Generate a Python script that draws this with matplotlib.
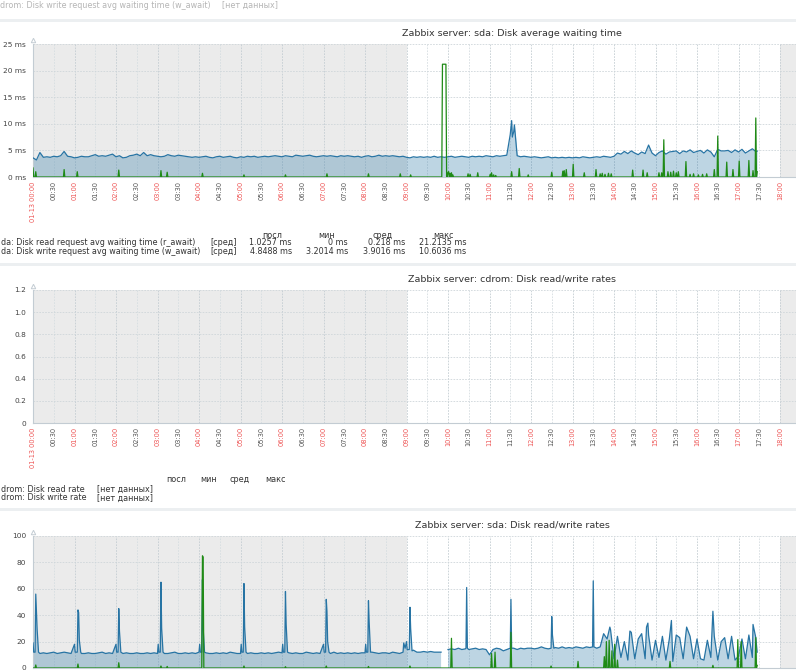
import numpy as np
import matplotlib
matplotlib.use("Agg")
import matplotlib.pyplot as plt
from matplotlib.patches import Rectangle
from matplotlib.transforms import blended_transform_factory

W, H = 796, 672
X0 = 33                      # pixel column of the y axis
PX_PER_HOUR = 41.5
T_MAX = (W - X0) / PX_PER_HOUR * 60   # minutes visible up to the right edge
DATA_END = 1047              # last sample, ~17:27

GREEN = "#1f8a16"
BLUE = "#2774a4"
SHADE = "#ebebeb"
AXIS = "#c3ccd3"
TXT = "#333333"
HOUR_RED = "#ee5555"
LEG_FS = 5.8

# ---- sda: Disk average waiting time (ms) --------------------------------
# w_await, one value per 5 minutes from 00:00
W_AWAIT_BASE = [
    3.6, 3.2, 4.6, 3.7, 3.8, 3.7, 3.9, 3.8, 4.0, 4.8, 3.9, 3.8,   # 00
    3.6, 3.7, 3.9, 3.8, 3.8, 4.0, 4.2, 3.9, 4.0, 3.9, 4.1, 4.3,   # 01
    3.8, 4.0, 3.6, 3.7, 4.0, 4.1, 4.3, 4.0, 4.6, 4.0, 4.2, 4.0,   # 02
    3.9, 3.8, 3.9, 4.2, 4.0, 3.9, 4.1, 4.0, 3.9, 3.8, 3.7, 3.8,   # 03
    3.7, 3.8, 3.9, 3.7, 3.6, 3.8, 3.9, 3.7, 3.8, 3.9, 3.7, 3.6,   # 04
    3.8, 3.7, 3.9, 3.8, 3.9, 3.7, 3.8, 3.9, 3.8, 3.9, 4.0, 3.9,   # 05
    3.8, 4.0, 3.9, 3.8, 4.1, 4.0, 3.9, 4.0, 4.1, 3.9, 3.8, 3.9,   # 06
    4.0, 3.9, 4.0, 3.9, 3.8, 4.0, 3.9, 4.0, 3.9, 3.8, 3.9, 3.7,   # 07
    3.9, 4.0, 3.8, 3.9, 4.1, 3.9, 4.0, 3.9, 4.0, 3.9, 3.8, 3.9,   # 08
    3.7, 3.6, 3.8, 3.7, 3.8, 3.7, 3.8, 3.7, 3.9, 3.7, 3.8, 3.7,   # 09
    3.8, 3.9, 3.7, 3.8, 3.9, 3.8, 3.7, 3.9, 3.8, 3.9, 3.8, 4.0,   # 10
    3.9, 3.8, 4.0, 3.9, 4.0, 4.1, 8.0, 8.5, 4.0, 3.8, 3.9, 3.8,   # 11
    3.7, 3.8, 3.7, 3.6, 3.7, 3.8, 3.6, 3.7, 3.6, 3.7, 3.6, 3.7,   # 12
    3.6, 3.7, 3.6, 3.8, 3.7, 3.6, 3.7, 3.8, 3.7, 3.9, 3.8, 3.7,   # 13
    3.9, 4.5, 4.3, 4.8, 4.4, 4.9, 4.5, 4.2, 4.7, 4.4, 6.0, 4.5,   # 14
    4.0, 4.6, 4.9, 4.3, 4.7, 4.8, 4.9, 4.4, 4.9, 4.7, 5.1, 4.6,   # 15
    4.8, 5.0, 4.5, 5.1, 4.7, 3.8, 5.2, 4.9, 4.9, 5.0, 4.6, 5.1,   # 16
    4.7, 5.2, 4.5, 4.9, 5.3, 4.8,                                 # 17
]
# (minute, ms) readings finer than the 5 minute grid
W_AWAIT_DETAIL = [(688, 6.5), (690, 8.0), (692, 10.6), (693, 7.5), (695, 8.5),
                  (696, 9.8), (698, 7.0), (700, 4.0), (1047, 4.85)]
# r_await sits at 0 ms apart from these (minute, ms) readings
R_AWAIT_SPIKES = [
    (0, 1.7), (4, 1.0), (45, 1.4), (64, 1.0), (124, 1.3), (185, 1.2), (194, 0.9),
    (245, 0.7), (305, 0.4), (365, 0.4), (425, 0.6), (485, 0.6), (531, 0.6), (546, 0.4),
    (592, 21.2), (593, 21.2), (594, 21.2), (595, 21.2), (596, 21.2), (597, 21.2),
    (600, 0.9), (601, 1.0), (603, 0.7), (605, 0.8), (607, 0.4),
    (629, 0.6), (632, 0.5), (643, 0.8), (661, 0.5), (663, 0.8), (666, 0.4), (669, 0.3),
    (692, 1.0), (703, 1.6), (716, 0.4), (750, 0.9), (766, 1.1), (768, 1.2), (771, 1.4),
    (781, 2.4), (797, 0.8), (814, 1.4), (820, 0.6), (823, 0.7), (827, 0.5), (832, 0.7),
    (836, 0.6), (867, 1.3), (882, 1.3), (888, 0.8), (905, 0.8), (909, 0.8), (912, 7.0),
    (918, 1.0), (922, 0.9), (926, 1.1), (930, 0.8), (933, 1.0), (944, 2.9), (950, 0.5),
    (955, 0.6), (962, 0.4), (968, 0.5), (974, 0.6), (985, 1.4), (990, 7.7), (1003, 2.8),
    (1012, 1.4), (1021, 3.0), (1035, 3.1), (1041, 1.2), (1045, 11.1), (1047, 1.0),
]
AWAIT_LEGEND = [
    ("da: Disk read request avg waiting time (r_await)", "1.0257 ms", "0 ms", "0.218 ms", "21.2135 ms"),
    ("da: Disk write request avg waiting time (w_await)", "4.8488 ms", "3.2014 ms", "3.9016 ms", "10.6036 ms"),
]

# ---- sda: Disk read/write rates -----------------------------------------
nan = float("nan")
WRITE_RATE_BASE = [
    12, 11, 11, 11.5, 11, 11.5, 12, 11, 11.5, 12, 11.5, 11,       # 00
    11, 11.5, 11, 11, 11.5, 11, 11, 11.5, 12, 11, 11.5, 11,       # 01
    11.5, 11, 11, 11.5, 11, 11, 11.5, 11, 11, 11.5, 11, 11.5,     # 02
    11, 11.5, 11, 11, 11.5, 12, 11, 11, 11.5, 11, 11.5, 11,       # 03
    12, 11, 11.5, 11, 11, 11.5, 11, 11.5, 11, 12, 11.5, 11,       # 04
    11, 11.5, 11, 11.5, 11, 11, 11.5, 11, 11.5, 11, 11.5, 12,     # 05
    11.5, 11, 11.5, 11, 11.5, 11, 11, 12, 11.5, 11, 11.5, 11,     # 06
    11, 11.5, 11, 12, 11, 11.5, 11, 11.5, 11, 11.5, 11, 11.5,     # 07
    11.5, 11, 12, 11.5, 11, 11.5, 11.5, 11, 12, 11.5, 11, 12,     # 08
    13.5, 13, 13.5, 12, 12, 12.5, 12, 12.5, 12, 12, 12, nan,      # 09
    14, 14.5, 14, 15, 14, 14.5, 14, 14.5, 15, 14, 14.5, 14,       # 10
    10, 14, 15, 14.5, 13, 14, 14.5, 15, 14, 15, 14.5, 15,         # 11
    15, 14.5, 15, 16, 15, 14.5, 15, 15.5, 15, 16, 15, 15.5,       # 12
    15, 16, 15.5, 15, 16, 15.5, 16, 15, 16, 26, 22, 29,           # 13
    7, 24, 8, 20, 6, 27, 7, 22, 26, 7, 25, 6,                     # 14
    21, 8, 24, 6, 22, 5, 25, 23, 7, 6, 24, 7,                     # 15
    22, 7, 6, 21, 8, 24, 6, 20, 23, 7, 24, 6,                     # 16
    9, 22, 7, 25, 8, 23,                                          # 17
]
WRITE_RATE_SPIKES = [
    (0, 19), (1, 12), (3, 12), (4, 56), (5, 43), (6, 29), (8, 12),
    (60, 18), (61, 12), (64, 12), (65, 44), (66, 42), (67, 21), (69, 12),
    (120, 18), (121, 12), (123, 12), (124, 45), (125, 28), (127, 12),
    (181, 18), (182, 12), (184, 12), (185, 65), (186, 30), (188, 12),
    (241, 18), (242, 12), (244, 12), (245, 67), (246, 30), (248, 12),
    (301, 18), (302, 12), (304, 12), (305, 64), (306, 31), (308, 12),
    (361, 18), (362, 12), (364, 12), (365, 58), (366, 33), (368, 12),
    (420, 18), (421, 12), (423, 12), (424, 52), (425, 43), (426, 20), (428, 12),
    (481, 18), (482, 12), (484, 12), (485, 51), (486, 35), (488, 12),
    (536, 19), (538, 15), (540, 20), (541, 14), (544, 14), (545, 46), (546, 30), (548, 13),
    (626, 15), (627, 61), (628, 15),
    (690, 15), (691, 52), (692, 15),
    (749, 15), (750, 39), (751, 25), (753, 15),
    (809, 16), (810, 66), (811, 16),
    (834, 31), (863, 28), (887, 31), (889, 34), (923, 36), (945, 31),
    (983, 43), (1041, 33), (1047, 12),
]
READ_RATE_SPIKES = [
    (4, 2.3), (65, 3.0), (124, 4.0), (185, 1.5), (194, 1.2), (245, 85), (246, 84),
    (305, 1.5), (365, 1.0), (424, 1.5), (485, 1.2), (545, 1.5), (605, 22.5),
    (663, 11), (668, 12), (691, 27), (749, 1.5), (788, 5), (826, 8.6), (829, 20),
    (833, 21), (837, 13), (841, 18), (845, 6), (921, 5), (983, 2), (1019, 21.5),
    (1024, 20), (1045, 23), (1047, 2),
]

CDROM_LEGEND = ["drom: Disk read rate", "drom: Disk write rate"]
STAT_HEADERS = ["посл", "мин", "сред", "макс"]


def merged_series(base, detail, step=5):
    pts = {i * step: float(v) for i, v in enumerate(base)}
    pts.update({t: float(v) for t, v in detail})
    ts = sorted(pts)
    return np.array(ts, float), np.array([pts[k] for k in ts], float)


def sparse_series(spikes, end, step=5):
    # zero line with the listed readings; zeros either side keep spikes narrow
    pts = {t: 0.0 for t in range(0, end + 1, step)}
    pts[end] = 0.0
    hit = {t for t, _ in spikes}
    for t, _ in spikes:
        for n in (t - 1, t + 1):
            if 0 <= n <= end and n not in hit:
                pts[n] = 0.0
    for t, v in spikes:
        pts[t] = float(v)
    ts = sorted(pts)
    return np.array(ts, float), np.array([pts[k] for k in ts], float)


def px(x, y):
    return x / W, 1 - y / H


def make_panel(fig, top, bottom, yticks, ylabels, title, time_labels=True):
    ax = fig.add_axes([X0 / W, 1 - bottom / H, (W - X0) / W, (bottom - top) / H])
    ax.set_xlim(0, T_MAX)
    ax.set_ylim(yticks[0], yticks[-1])
    ax.set_facecolor("white")
    ax.axvspan(0, 540, color=SHADE, lw=0, zorder=0)
    ax.axvspan(1080, T_MAX, color=SHADE, lw=0, zorder=0)

    xt = list(range(0, 1081, 30))
    for t in xt[1:]:
        col = "#c4cdd2" if t % 60 == 0 else "#d6dde1"
        ax.axvline(t, color=col, lw=0.6, ls=(0, (2, 1.5)), zorder=1)
    for y in yticks[1:]:
        ax.axhline(y, color="#cfd6da", lw=0.6, ls=(0, (2, 1.5)), zorder=1)

    ax.set_xticks(xt)
    if time_labels:
        labels = ["01-13 00:00"] + [f"{t // 60:02d}:{t % 60:02d}" for t in xt[1:]]
        ax.set_xticklabels(labels, rotation=90, fontsize=4.8, va="top", ha="center")
        for t, lab in zip(xt, ax.get_xticklabels()):
            lab.set_color(HOUR_RED if t % 60 == 0 else "#555555")
    else:
        ax.set_xticklabels([])
    ax.set_yticks(yticks)
    ax.set_yticklabels(ylabels, fontsize=5.3, color="#444444")
    ax.tick_params(axis="x", length=0, pad=3)
    ax.tick_params(axis="y", length=0, pad=5)

    for s in ("top", "right"):
        ax.spines[s].set_visible(False)
    for s in ("left", "bottom"):
        ax.spines[s].set_color(AXIS)
        ax.spines[s].set_linewidth(0.8)
    tr = blended_transform_factory(ax.transData, ax.transAxes)
    ax.plot([0], [1.03], marker="^", ms=3.2, mfc="white", mec=AXIS, mew=0.7,
            transform=tr, clip_on=False)

    fig.text(*px(512, (top - 11)), title, fontsize=6.8, color=TXT, ha="center", va="center")
    return ax


def draw_pair(ax, fill_t, fill_v, line_t, line_v):
    vals = np.ma.masked_invalid(fill_v)
    ax.fill_between(fill_t, 0, vals, color=BLUE, alpha=0.3, lw=0, zorder=2)
    ax.plot(fill_t, fill_v, color=BLUE, lw=0.9, zorder=3)
    ax.plot(line_t, line_v, color=GREEN, lw=0.9, zorder=4)


fig = plt.figure(figsize=(W / 100, H / 100), dpi=100)
fig.patch.set_facecolor("white")

# separators between the stacked graphs
for y0 in (19, 263, 508):
    fig.add_artist(Rectangle(px(0, y0 + 3), 1, 3 / H, transform=fig.transFigure,
                             color="#eceff1", lw=0))

# tail of the graph above, cut off by the screenshot
faded = "#b5b5b5"
fig.text(*px(0, 5), "drom: Disk write request avg waiting time (w_await)", fontsize=LEG_FS,
         color=faded, va="center")
fig.text(*px(222, 5), "[нет данных]", fontsize=LEG_FS, color=faded, va="center")

# panel 1
ax1 = make_panel(fig, 44, 177, [0, 5, 10, 15, 20, 25],
                 ["0 ms", "5 ms", "10 ms", "15 ms", "20 ms", "25 ms"],
                 "Zabbix server: sda: Disk average waiting time")
wt, wv = merged_series(W_AWAIT_BASE, W_AWAIT_DETAIL)
rt, rv = sparse_series(R_AWAIT_SPIKES, DATA_END)
draw_pair(ax1, wt, wv, rt, rv)

for x, name in zip((272, 327, 383, 443), STAT_HEADERS):
    fig.text(*px(x, 235), name, fontsize=LEG_FS, color=TXT, ha="center", va="center")
for y, row in zip((243, 251), AWAIT_LEGEND):
    fig.text(*px(1, y), row[0], fontsize=LEG_FS, color=TXT, va="center")
    fig.text(*px(210, y), "[сред]", fontsize=LEG_FS, color=TXT, va="center")
    for x, val in zip((291.7, 348, 405, 466), row[1:]):
        fig.text(*px(x, y), val, fontsize=LEG_FS, color=TXT, ha="right", va="center")

# panel 2 (no data)
ax2 = make_panel(fig, 290, 423, [0, 0.2, 0.4, 0.6, 0.8, 1.0, 1.2],
                 ["0", "0.2", "0.4", "0.6", "0.8", "1.0", "1.2"],
                 "Zabbix server: cdrom: Disk read/write rates")
for x, name in zip((176, 209, 240, 275), STAT_HEADERS):
    fig.text(*px(x, 479), name, fontsize=LEG_FS, color=TXT, ha="center", va="center")
for y, name in zip((489, 498), CDROM_LEGEND):
    fig.text(*px(1, y), name, fontsize=LEG_FS, color=TXT, va="center")
    fig.text(*px(97, y), "[нет данных]", fontsize=LEG_FS, color=TXT, va="center")

# panel 3 (its time labels fall below the screenshot)
ax3 = make_panel(fig, 536, 668, [0, 20, 40, 60, 80, 100],
                 ["0", "20", "40", "60", "80", "100"],
                 "Zabbix server: sda: Disk read/write rates", time_labels=False)
st, sv = merged_series(WRITE_RATE_BASE, WRITE_RATE_SPIKES)
gt, gv = sparse_series(READ_RATE_SPIKES, DATA_END)
draw_pair(ax3, st, sv, gt, gv)

fig.savefig("out.png", dpi=100, facecolor="white")
